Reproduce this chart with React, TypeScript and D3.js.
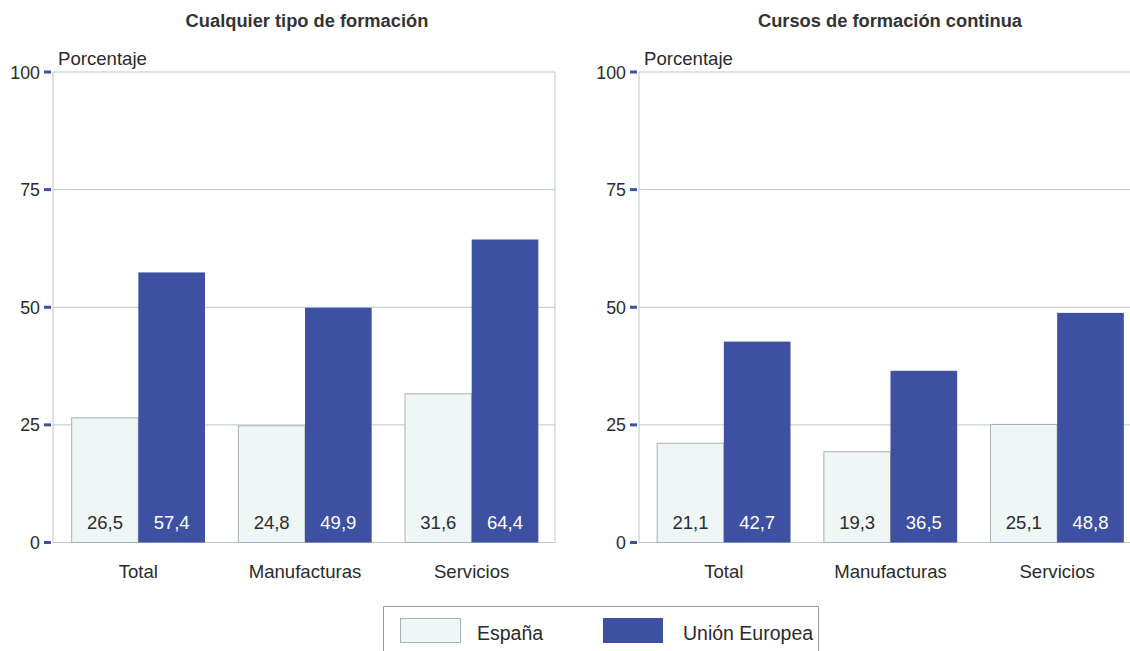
import React from "react";
import * as d3 from "d3";

const categories = ["Total", "Manufacturas", "Servicios"];
const seriesNames = ["España", "Unión Europea"];
const anyTrainingSpain = [26.5, 24.8, 31.6];
const anyTrainingEU = [57.4, 49.9, 64.4];
const coursesSpain = [21.1, 19.3, 25.1];
const coursesEU = [42.7, 36.5, 48.8];
const yTicks = [0, 25, 50, 75, 100];
const panelTitles = ["Cualquier tipo de formación", "Cursos de formación continua"];

const W = 1130;
const H = 651;
const FONT = "'Liberation Sans', Arial, Helvetica, sans-serif";
const SPAIN_FILL = "#eef6f6";
const SPAIN_STROKE = "#a9b1b1";
const EU_FILL = "#3d50a2";
const GRID = "#bcc6cc";
const TEXT = "#2b2b2b";

const fmt = (v: number) => v.toFixed(1).replace(".", ",");

type PanelProps = {
  title: string;
  spain: number[];
  eu: number[];
  x0: number;
  x1: number;
  axisX: number;
  titleX: number;
  frameRight: boolean;
};

function Panel({ title, spain, eu, x0, x1, axisX, titleX, frameRight }: PanelProps) {
  const y = d3.scaleLinear().domain([0, 100]).range([542.5, 72]);
  const xb = d3
    .scaleBand<string>()
    .domain(categories)
    .range([x0, x1])
    .paddingInner(0.2)
    .paddingOuter(0.1);
  const xs = d3
    .scaleBand<string>()
    .domain(seriesNames)
    .range([0, xb.bandwidth()]);

  return (
    <g>
      <text
        x={titleX}
        y={27}
        textAnchor="middle"
        fontFamily={FONT}
        fontWeight="bold"
        fontSize={18.3}
        fill="#333"
      >
        {title}
      </text>
      {yTicks.map((t) => (
        <g key={t}>
          <line x1={axisX} x2={x1} y1={y(t)} y2={y(t)} stroke={GRID} strokeWidth={1} />
          <rect x={axisX - 9} y={y(t) - 1.5} width={7} height={3} fill={EU_FILL} />
          <text
            x={axisX - 13}
            y={y(t) + 6.5}
            textAnchor="end"
            fontFamily={FONT}
            fontSize={17.8}
            fill={TEXT}
          >
            {t}
          </text>
        </g>
      ))}
      <line x1={axisX} x2={axisX} y1={y(100)} y2={y(0)} stroke={GRID} strokeWidth={1} />
      {frameRight && (
        <line x1={x1} x2={x1} y1={y(100)} y2={y(0)} stroke={GRID} strokeWidth={1} />
      )}
      <text x={axisX + 5} y={y(100) - 7} fontFamily={FONT} fontSize={18.6} fill={TEXT}>
        Porcentaje
      </text>
      {categories.map((c, i) => {
        const bx = xb(c)!;
        const sx = bx + xs("España")!;
        const ex = bx + xs("Unión Europea")!;
        const bw = xs.bandwidth();
        return (
          <g key={c}>
            <rect
              x={sx}
              y={y(spain[i])}
              width={bw}
              height={y(0) - y(spain[i])}
              fill={SPAIN_FILL}
              stroke={SPAIN_STROKE}
              strokeWidth={1}
            />
            <rect
              x={ex}
              y={y(eu[i])}
              width={bw}
              height={y(0) - y(eu[i])}
              fill={EU_FILL}
            />
            <text
              x={sx + bw / 2}
              y={y(0) - 14}
              textAnchor="middle"
              fontFamily={FONT}
              fontSize={18.5}
              fill={TEXT}
            >
              {fmt(spain[i])}
            </text>
            <text
              x={ex + bw / 2}
              y={y(0) - 14}
              textAnchor="middle"
              fontFamily={FONT}
              fontSize={18.5}
              fill="#ffffff"
            >
              {fmt(eu[i])}
            </text>
            <text
              x={bx + xb.bandwidth() / 2}
              y={578}
              textAnchor="middle"
              fontFamily={FONT}
              fontSize={18.6}
              fill={TEXT}
            >
              {c}
            </text>
          </g>
        );
      })}
    </g>
  );
}

export default function App() {
  return (
    <svg
      width={W}
      height={H}
      style={{ position: "absolute", left: 0, top: 0, background: "#fff" }}
    >
      <rect width={W} height={H} fill="#fff" />
      <Panel
        title={panelTitles[0]}
        spain={anyTrainingSpain}
        eu={anyTrainingEU}
        x0={55}
        x1={555}
        axisX={53}
        titleX={307}
        frameRight={true}
      />
      <Panel
        title={panelTitles[1]}
        spain={coursesSpain}
        eu={coursesEU}
        x0={640.5}
        x1={1140.5}
        axisX={639}
        titleX={890}
        frameRight={false}
      />
      <g>
        <path d="M383.5,651 V606.5 H818.5 V651" fill="none" stroke="#9a9a9a" strokeWidth={1} />
        <rect x={400.5} y={618.5} width={60} height={24} fill={SPAIN_FILL} stroke={SPAIN_STROKE} />
        <text x={477} y={640} fontFamily={FONT} fontSize={19.5} fill={TEXT}>
          {seriesNames[0]}
        </text>
        <rect x={603} y={618} width={60} height={25} fill={EU_FILL} />
        <text x={683} y={640} fontFamily={FONT} fontSize={19.5} fill={TEXT}>
          {seriesNames[1]}
        </text>
      </g>
    </svg>
  );
}
